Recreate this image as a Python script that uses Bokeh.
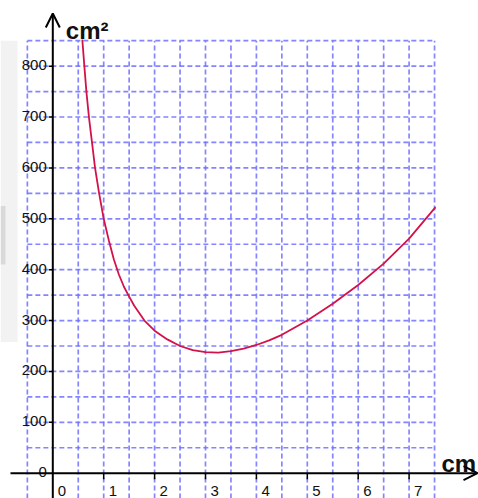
from bokeh.plotting import figure
from bokeh.models import Range1d, Arrow, OpenHead
from bokeh.core.properties import value
from bokeh.embed import file_html
from bokeh.resources import INLINE

# ---- data ----
curve_x = [0.58, 0.62, 0.66, 0.71, 0.77, 0.83, 0.91, 1.0, 1.1, 1.2, 1.3, 1.4,
           1.5, 1.6, 1.8, 2.0, 2.25, 2.5, 2.75, 3.0, 3.25, 3.5, 3.75, 4.0,
           4.25, 4.5, 5.0, 5.5, 6.0, 6.5, 7.0, 7.52]
curve_y = [852, 800, 750, 700, 650, 600, 550, 500, 458, 420, 390, 366,
           347, 329, 300, 280, 263, 250, 242, 238, 237, 240, 245, 252,
           261, 272, 300, 333, 370, 412, 461, 523]
x_ticks = [0, 1, 2, 3, 4, 5, 6, 7]
x_tick_labels = ["0", "1", "2", "3", "4", "5", "6", "7"]
y_ticks = [0, 100, 200, 300, 400, 500, 600, 700, 800]
y_tick_labels = ["0", "100", "200", "300", "400", "500", "600", "700", "800"]
grid_x = [-0.5, 0.5, 1, 1.5, 2, 2.5, 3, 3.5, 4, 4.5, 5, 5.5, 6, 6.5, 7, 7.5]
grid_y = [50, 100, 150, 200, 250, 300, 350, 400, 450, 500, 550, 600, 650, 700, 750, 800, 850]
x_unit = "cm"
y_unit = "cm²"

W, H = 478, 498
X0, X1 = -1.0275, 8.3635
Y0, Y1 = -49.7, 929.0
PX = W / (X1 - X0)   # pixels per x unit
PY = H / (Y1 - Y0)   # pixels per y unit

p = figure(width=W, height=H, output_backend="svg", toolbar_location=None,
           x_range=Range1d(X0, X1), y_range=Range1d(Y0, Y1),
           x_axis_location=None, y_axis_location=None,
           min_border=0, min_border_left=0, min_border_right=0,
           min_border_top=0, min_border_bottom=0)
p.outline_line_color = None
p.grid.visible = False
p.background_fill_color = "white"
p.border_fill_color = "white"

# faint grey artefact at the left edge
p.quad(left=[X0], right=[X0 + 17 / PX], bottom=[258], top=[850],
       fill_color="#f2f2f2", line_color=None)
p.quad(left=[X0], right=[X0 + 5 / PX], bottom=[410], top=[525],
       fill_color="#d9d9d9", line_color=None)

gcol = "#7070ff"
gx0, gx1 = grid_x[0], grid_x[-1]
p.segment(x0=grid_x, y0=[Y0] * len(grid_x), x1=grid_x, y1=[grid_y[-1]] * len(grid_x),
          line_color=gcol, line_width=1.7, line_dash="5 3", line_alpha=0.85)
p.segment(x0=[gx0] * len(grid_y), y0=grid_y, x1=[gx1] * len(grid_y), y1=grid_y,
          line_color=gcol, line_width=1.7, line_dash="5 3", line_alpha=0.85)

# axes with arrows
p.add_layout(Arrow(end=OpenHead(size=14, line_width=2, line_color="black"),
                   x_start=X0 + 10 / PX, y_start=0, x_end=X1 - 1 / PX, y_end=0,
                   line_color="black", line_width=2))
p.add_layout(Arrow(end=OpenHead(size=14, line_width=2, line_color="black"),
                   x_start=0, y_start=Y0, x_end=0, y_end=Y1 - 13 / PY,
                   line_color="black", line_width=2))

# tick marks
xt = x_ticks[1:]
p.segment(x0=xt, y0=[0] * len(xt), x1=xt, y1=[-6 / PY] * len(xt),
          line_color="black", line_width=1.5)
yt = y_ticks[1:]
p.segment(x0=[0] * len(yt), y0=yt, x1=[-4 / PX] * len(yt), y1=yt,
          line_color="black", line_width=1.5)

# curve
p.line(curve_x, curve_y, line_color="#d4124a", line_width=1.8)

font = value("Liberation Sans")
p.text(x=x_ticks, y=[0] * len(x_ticks), text=x_tick_labels, text_font=font,
       text_font_size="15px", text_align="left", text_baseline="alphabetic",
       x_offset=5, y_offset=18, text_color="#111111")
p.text(x=[0] * len(y_ticks), y=y_ticks, text=y_tick_labels, text_font=font,
       text_font_size="15px", text_align="right", text_baseline="alphabetic",
       x_offset=-6, y_offset=-1, text_color="#111111")

p.text(x=[0], y=[Y1], text=[y_unit], text_font=font, text_font_style="bold",
       text_font_size="24px", text_align="left", text_baseline="alphabetic",
       x_offset=13, y_offset=30, text_color="#111111")
p.text(x=[(441 - 52.3) / 50.9], y=[0], text=[x_unit], text_font=font,
       text_font_style="bold", text_font_size="24px", text_align="left",
       text_baseline="alphabetic", x_offset=0, y_offset=-10, text_color="#111111")

open("out.html", "w").write(file_html(p, INLINE))
